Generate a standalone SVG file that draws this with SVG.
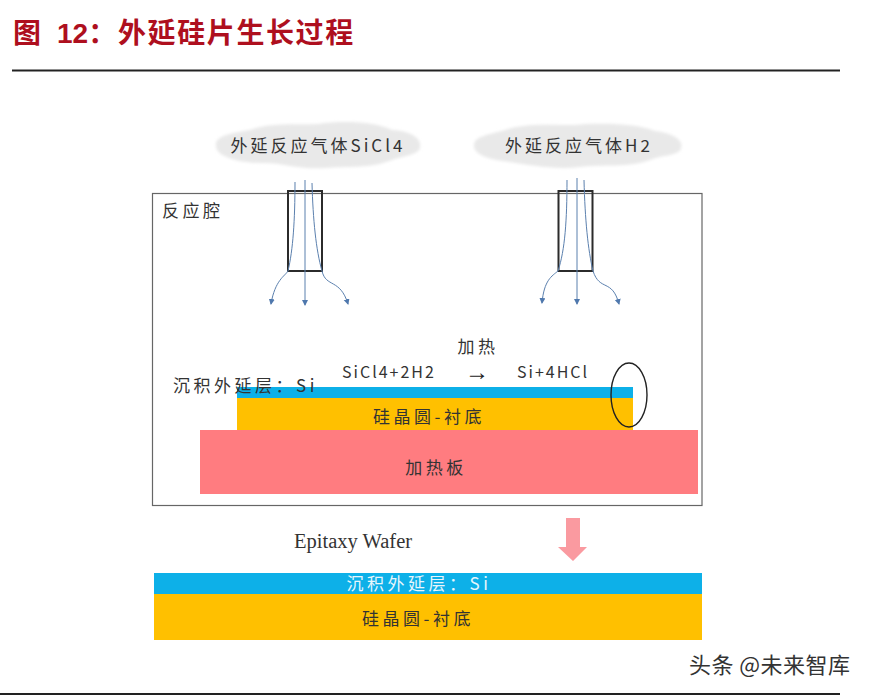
<svg xmlns="http://www.w3.org/2000/svg" width="869" height="696" viewBox="0 0 869 696">
<style>
.t{font-family:"Noto Sans CJK SC","Liberation Sans",sans-serif;fill:#333;font-size:17px;letter-spacing:3.5px}
.m{font-size:16px;letter-spacing:2px}
.g{letter-spacing:3px}
.c{text-anchor:middle}
.flow{fill:none;stroke:#5b80ae;stroke-width:1;marker-end:url(#ah)}
.tube{fill:none;stroke:#2b2b2b;stroke-width:2}
.cloud{fill:#e9e9e9;filter:url(#soft)}
.ttl{font-family:"Liberation Sans","Noto Sans CJK SC",sans-serif;font-weight:700;font-size:28px;fill:#ae0f1e}
</style>
<defs>
<marker id="ah" markerWidth="7" markerHeight="7" refX="5" refY="3" orient="auto" markerUnits="userSpaceOnUse"><path d="M0 0L6 3L0 6Z" fill="#4f78ad"/></marker>
<filter id="soft" x="-5%" y="-15%" width="110%" height="130%"><feGaussianBlur stdDeviation="1.5"/></filter>
</defs>
<rect width="869" height="696" fill="#fff"/>
<g id="title">
<text class="ttl" x="13" y="43">图</text>
<text class="ttl" x="57" y="43">12：</text>
<text class="ttl" x="118" y="43" letter-spacing="1.6">外延硅片生长过程</text>
<rect x="12" y="69.5" width="828" height="2" fill="#222"/>
</g>
<g id="chamber">
<rect x="152.5" y="193.5" width="549.5" height="312" fill="none" stroke="#666" stroke-width="1.2"/>
<text class="t" x="162" y="217">反应腔</text>
</g>
<g id="cloud-sicl4">
<path class="cloud" d="M216 146C214 136 232 133 250 130C270 122 300 125 318 124C345 120 375 122 392 130C410 131 422 138 420 147C420 155 402 156 392 160C370 169 345 166 325 168C300 170 280 162 262 163C240 163 216 157 216 146Z"/>
<text class="t g c" x="318" y="152">外延反应气体SiCl4</text>
</g>
<g id="cloud-h2">
<path class="cloud" d="M474 145C474 136 492 134 505 130C525 123 550 125 575 125C600 122 640 124 655 131C672 133 684 140 681 148C680 156 660 155 650 160C630 168 600 164 580 167C555 170 530 165 510 162C490 160 473 155 474 145Z"/>
<text class="t g c" x="579" y="152">外延反应气体H2</text>
</g>
<g id="layers">
<rect x="200" y="430" width="498" height="64" fill="#ff7c80"/>
<rect x="237" y="398" width="396" height="32" fill="#ffc000"/>
<rect x="237" y="387" width="396" height="11" fill="#0db0e8"/>
<ellipse cx="629" cy="395" rx="18" ry="32" fill="none" stroke="#222" stroke-width="1.4"/>
</g>
<g id="labels">
<text class="t" x="173" y="392">沉积外延层：Si</text>
<text class="t c" x="429" y="423">硅晶圆-衬底</text>
<text class="t c" x="436" y="474">加热板</text>
<text class="t m" x="342" y="378">SiCl4+2H2</text>
<text class="t c" x="478" y="353">加热</text>
<text class="c" x="477" y="380" font-family="'Liberation Sans',sans-serif" font-size="24" fill="#222">→</text>
<text class="t m" x="517" y="378">Si+4HCl</text>
<text x="294" y="548" font-family="'Liberation Serif',serif" font-size="20.5" fill="#333">Epitaxy Wafer</text>
</g>
<g id="connectors">
<rect class="tube" x="288" y="191" width="34" height="80"/>
<rect class="tube" x="558.5" y="191" width="34" height="80"/>
<path class="flow" d="M295 182C295 220 293 250 288 271C285 276 275 280 271 304"/>
<path class="flow" d="M305 180V305"/>
<path class="flow" d="M312 183C313 220 316 250 322 271C326 288 340 278 348 304"/>
<path class="flow" d="M567 180C567 220 565 250 558 271C552 276 544 280 542 303"/>
<path class="flow" d="M577 178V304"/>
<path class="flow" d="M584 180C585 220 588 250 593 271C600 292 612 278 619 304"/>
</g>
<path id="down-arrow" d="M566 518H580V547H587L573 561L558 547H566Z" fill="#fa9aa0"/>
<g id="epi-wafer">
<rect x="154" y="573" width="548" height="21" fill="#0db0e8"/>
<rect x="154" y="594" width="548" height="46" fill="#ffc000"/>
<text class="t c" x="419" y="590" style="fill:#e8f6fc">沉积外延层：Si</text>
<text class="t c" x="418" y="625">硅晶圆-衬底</text>
</g>
<g id="footer">
<text x="689" y="673" font-family="'Noto Sans CJK SC',sans-serif" font-size="22" fill="#333" textLength="161">头条 @未来智库</text>
<rect x="0" y="693" width="840" height="2" fill="#222"/>
</g>
</svg>
